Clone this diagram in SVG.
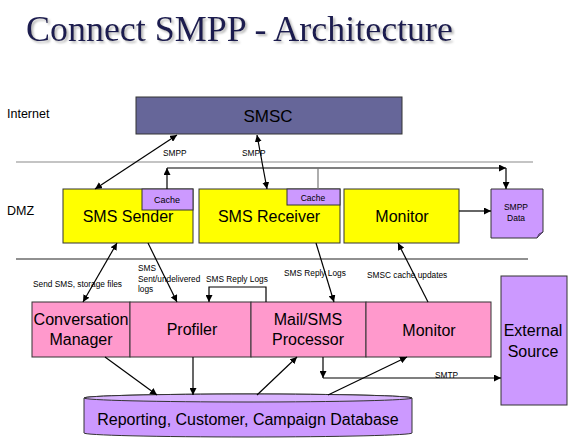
<svg xmlns="http://www.w3.org/2000/svg" width="576" height="446" viewBox="0 0 576 446">
<style>
.box{stroke:#333;stroke-width:1}
.yel{fill:#ffff00}
.pur{fill:#cc99ff}
.pink{fill:#ff99cc}
.t{font-family:"Liberation Sans",Arial,sans-serif;fill:#000}
.big{font-size:16px}
.sm{font-size:8.3px}
.lbl{font-size:12.5px}
.c{stroke:#000;stroke-width:1.2;fill:none}
.ttl{font-family:"Liberation Serif","Times New Roman",serif;font-size:36px}
</style>
<defs>
<marker id="ah" viewBox="0 0 10 10" refX="10" refY="5" markerWidth="7" markerHeight="7" markerUnits="userSpaceOnUse" orient="auto-start-reverse">
<path d="M0,0 L10,5 L0,10 Z" fill="#000"/>
</marker>
<filter id="shadow" x="-5%" y="-30%" width="110%" height="160%">
<feDropShadow dx="2" dy="2" stdDeviation="1" flood-color="#888" flood-opacity="0.6"/>
</filter>
</defs>
<rect width="576" height="446" fill="#fff"/>
<g id="title">
<text class="ttl" x="26" y="41" fill="#1c1c50" filter="url(#shadow)" textLength="427" lengthAdjust="spacingAndGlyphs">Connect SMPP - Architecture</text>
</g>
<g id="zones">
<text class="t lbl" x="7" y="118">Internet</text>
<text class="t lbl" x="7" y="215">DMZ</text>
<line x1="16" y1="162" x2="533" y2="162" stroke="#8a8a8a" stroke-width="1.2"/>
<line x1="16" y1="259" x2="528" y2="259" stroke="#222" stroke-width="1.2"/>
</g>
<g id="smsc">
<rect class="box" x="136" y="97" width="266" height="37" fill="#666699"/>
<text class="t" x="268" y="122" font-size="17" text-anchor="middle">SMSC</text>
</g>
<g id="sms-sender">
<rect class="box yel" x="63" y="189" width="130" height="54"/>
<rect class="box pur" x="142" y="189" width="51" height="21"/>
<text class="t" x="167" y="203" font-size="9" text-anchor="middle">Cache</text>
<text class="t big" x="128" y="222" text-anchor="middle">SMS Sender</text>
</g>
<g id="sms-receiver">
<rect class="box yel" x="199" y="189" width="141" height="54"/>
<rect class="box pur" x="287" y="189" width="53" height="16"/>
<text class="t" x="313" y="201" font-size="8.5" text-anchor="middle">Cache</text>
<text class="t big" x="269" y="222" text-anchor="middle">SMS Receiver</text>
</g>
<g id="monitor-dmz">
<rect class="box yel" x="344" y="189" width="115" height="54"/>
<text class="t big" x="402" y="222" text-anchor="middle">Monitor</text>
</g>
<g id="smpp-data">
<path class="box pur" d="M491,189 H543 V232 L537,238 H491 Z"/>
<path d="M537,238 L539,234 L543,232" fill="#9966cc" stroke="#333" stroke-width="0.8"/>
<text class="t" x="516" y="210" font-size="8.5" text-anchor="middle">SMPP</text>
<text class="t" x="516" y="221" font-size="8.5" text-anchor="middle">Data</text>
</g>
<g id="conversation-manager">
<rect class="box pink" x="32" y="302" width="98" height="55"/>
<text class="t big" x="81" y="325" text-anchor="middle" textLength="95" lengthAdjust="spacingAndGlyphs">Conversation</text>
<text class="t big" x="81" y="345" text-anchor="middle">Manager</text>
</g>
<g id="profiler">
<rect class="box pink" x="130" y="302" width="121" height="55"/>
<text class="t big" x="192" y="335" text-anchor="middle">Profiler</text>
</g>
<g id="mail-sms-processor">
<rect class="box pink" x="251" y="302" width="115" height="55"/>
<text class="t big" x="308" y="325" text-anchor="middle">Mail/SMS</text>
<text class="t big" x="308" y="345" text-anchor="middle">Processor</text>
</g>
<g id="monitor">
<rect class="box pink" x="366" y="302" width="125" height="55"/>
<text class="t big" x="429" y="336" text-anchor="middle">Monitor</text>
</g>
<g id="external-source">
<rect class="box pur" x="501" y="276" width="66" height="129"/>
<text class="t big" x="533" y="336" text-anchor="middle">External</text>
<text class="t big" x="533" y="357" text-anchor="middle">Source</text>
</g>
<g id="database">
<path class="box" fill="#cc99ff" d="M84,398 A164,4 0 0 1 412,398 V433 A164,4 0 0 1 84,433 Z"/>
<ellipse class="box" cx="248" cy="398" rx="164" ry="4" fill="#d9b3ff"/>
<text class="t big" x="248" y="425" text-anchor="middle">Reporting, Customer, Campaign Database</text>
</g>
<g id="connectors">
<line class="c" x1="177" y1="135" x2="95" y2="189" marker-start="url(#ah)" marker-end="url(#ah)"/>
<line class="c" x1="257" y1="135" x2="267" y2="189" marker-start="url(#ah)" marker-end="url(#ah)"/>
<line class="c" x1="167" y1="189" x2="167" y2="168" marker-end="url(#ah)"/>
<line class="c" x1="167" y1="168" x2="506" y2="168" marker-end="url(#ah)"/>
<line class="c" x1="506" y1="168" x2="506" y2="189" marker-end="url(#ah)"/>
<line x1="318" y1="168" x2="318" y2="189" stroke="#777" stroke-width="1.2"/>
<line class="c" x1="459" y1="211" x2="491" y2="211" marker-end="url(#ah)"/>
<line class="c" x1="117" y1="243" x2="83" y2="302" marker-start="url(#ah)" marker-end="url(#ah)"/>
<line class="c" x1="148" y1="243" x2="177" y2="302" marker-end="url(#ah)"/>
<polyline class="c" points="266,302 266,287 209,287 209,302" marker-end="url(#ah)"/>
<line class="c" x1="316" y1="243" x2="334" y2="302" marker-end="url(#ah)"/>
<line class="c" x1="428" y1="302" x2="398" y2="243" marker-end="url(#ah)"/>
<line class="c" x1="105" y1="357" x2="157" y2="395" marker-end="url(#ah)"/>
<line class="c" x1="193" y1="357" x2="193" y2="395" marker-end="url(#ah)"/>
<line class="c" x1="257" y1="395" x2="297" y2="357" marker-end="url(#ah)"/>
<line class="c" x1="323" y1="357" x2="323" y2="378" marker-end="url(#ah)"/>
<line class="c" x1="323" y1="378" x2="501" y2="378" marker-end="url(#ah)"/>
<line class="c" x1="328" y1="395" x2="407" y2="357" marker-end="url(#ah)"/>
<text class="t sm" x="163" y="156">SMPP</text>
<text class="t sm" x="242" y="156">SMPP</text>
<text class="t sm" x="33" y="287">Send SMS, storage files</text>
<text class="t sm" x="138" y="271">SMS</text>
<text class="t sm" x="138" y="282">Sent/undelivered</text>
<text class="t sm" x="138" y="292">logs</text>
<text class="t sm" x="206" y="282">SMS Reply Logs</text>
<text class="t sm" x="284" y="276">SMS Reply Logs</text>
<text class="t sm" x="367" y="278">SMSC  cache updates</text>
<text class="t sm" x="435" y="378">SMTP</text>
</g>
</svg>
